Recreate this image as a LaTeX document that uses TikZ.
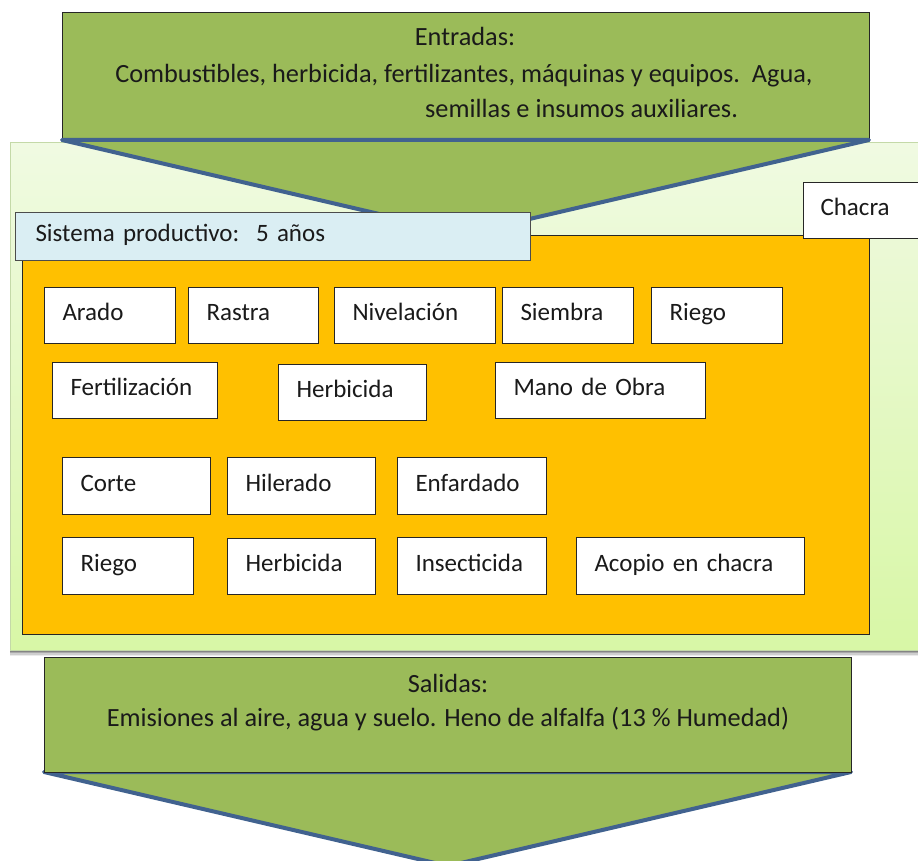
\documentclass[tikz,border=0pt]{standalone}
\usepackage{fontspec}
\setmainfont{Carlito}
\definecolor{olivegreen}{HTML}{9BBB59}
\definecolor{chevblue}{HTML}{41628F}
\definecolor{orangefill}{HTML}{FFC000}
\definecolor{paleblue}{HTML}{DAEEF3}
\definecolor{panelTop}{HTML}{F0FAE2}
\definecolor{panelBot}{HTML}{D8F7A6}
\definecolor{panelEdge}{HTML}{C4D9A8}
\definecolor{txt}{HTML}{1A1A1A}
\newcommand\taskbox[6]{%
  \pgfmathsetmacro\tbw{#4-36}%
  \node[task, minimum width=#4pt, minimum height=#5pt, text width=\tbw pt] (#1) at (#2,#3) {#6};}
\begin{document}
\begin{tikzpicture}[x=1pt,y=-1pt,
  font=\fontsize{25}{30}\selectfont, text=txt,
  task/.style={draw=black!85, fill=white, line width=1pt, anchor=north west,
    inner xsep=18pt, inner ysep=0pt, align=left, text height=18pt, text depth=8pt},
  greenbox/.style={draw=black!85, fill=olivegreen, line width=1pt, anchor=north west, inner sep=0pt},
  chevron/.style={draw=chevblue, fill=olivegreen, line width=4pt, line join=round},
  plain/.style={inner sep=0pt, anchor=base, font=\fontsize{26.3}{31}\selectfont}]
\useasboundingbox (0,0) rectangle (918,861);
\clip (0,0) rectangle (918,861);
% panel shadow
\foreach \d/\o in {6/0.08,4.5/0.12,3/0.18,1.5/0.22}{
  \fill[black, opacity=\o] (10,142+\d) rectangle (930,650+\d);}
% panel
\node[draw=panelEdge, line width=1pt, top color=panelTop, bottom color=panelBot,
  anchor=north west, minimum width=920pt, minimum height=508pt, inner sep=0pt] (panel) at (10,142) {};
% top box
\node[greenbox, minimum width=807pt, minimum height=128pt] (entradas) at (62,12) {};
\draw[chevron] (62,140) -- (465,234) -- (869,140) -- cycle;
\node[plain] (ent1) at (465,46) {Entradas:};
\node[plain] (ent2) at (464,83) {Combustibles,\ herbicida, fertilizantes, máquinas y equipos.\ \ Agua,};
\node[plain, anchor=base west] (ent3) at (425,118) {semillas e insumos auxiliares.};
% orange box
\node[draw=black!85, fill=orangefill, line width=1pt, anchor=north west,
  minimum width=847pt, minimum height=399pt, inner sep=0pt] (sistema) at (22,235) {};
% chacra
\node[draw=black!85, fill=white, line width=1pt, anchor=north west, minimum width=130pt,
  minimum height=56pt, inner xsep=17pt, text width=96pt, align=left,
  text height=18pt, text depth=8pt] (chacra) at (803,182) {Chacra};
% sistema label
\node[draw=black!70, fill=paleblue, line width=1pt, anchor=north west, minimum width=515pt,
  minimum height=48pt, inner xsep=20pt, text width=475pt, align=left,
  text height=18pt, text depth=8pt] (siscab) at (15,212) {Sistema productivo:\ \ 5 años};
% tasks
\taskbox{arado}{44}{287}{131}{56}{Arado}
\taskbox{rastra}{188}{287}{130}{56}{Rastra}
\taskbox{nivel}{334}{287}{161}{56}{Nivelación}
\taskbox{siembra}{502}{287}{131}{56}{Siembra}
\taskbox{riegoA}{651}{287}{131}{56}{Riego}
\taskbox{fert}{52}{362}{165}{56}{Fertilización}
\taskbox{herbA}{278}{364}{148}{56}{Herbicida}
\taskbox{mano}{495}{362}{210}{56}{Mano de Obra}
\taskbox{corte}{62}{457}{148}{57}{Corte}
\taskbox{hiler}{227}{457}{148}{57}{Hilerado}
\taskbox{enfard}{397}{457}{149}{57}{Enfardado}
\taskbox{riegoB}{62}{537}{131}{57}{Riego}
\taskbox{herbB}{227}{538}{148}{56}{Herbicida}
\taskbox{insect}{397}{537}{149}{57}{Insecticida}
\taskbox{acopio}{576}{537}{228}{57}{Acopio en chacra}
% bottom
\draw[chevron] (44,772) -- (448,866) -- (851,772) -- cycle;
\node[greenbox, minimum width=807pt, minimum height=115pt] (salidas) at (44,657) {};
\node[plain] (sal1) at (448,692) {Salidas:};
\node[plain] (sal2) at (448,726) {Emisiones al aire, agua y suelo. Heno de alfalfa (13 \% Humedad)};
\end{tikzpicture}
\end{document}
